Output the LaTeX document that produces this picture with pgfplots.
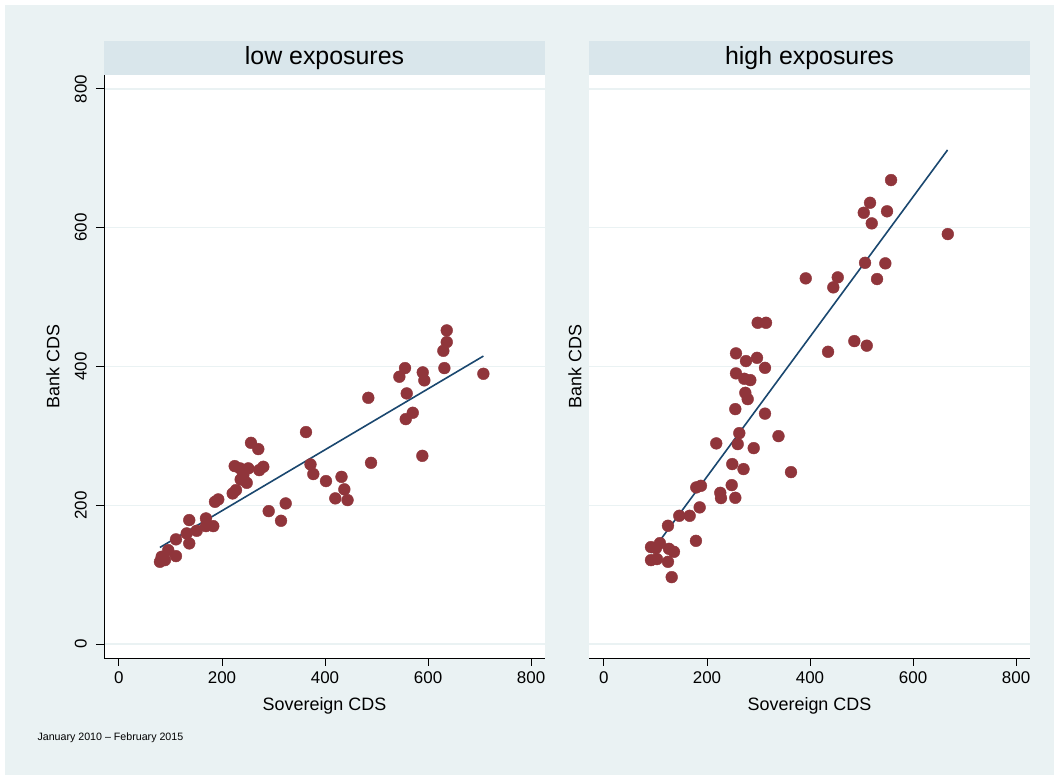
\documentclass[border=0pt]{standalone}
\usepackage{pgfplots}
\pgfplotsset{compat=1.18}
\usepackage{pgfplotstable}
\usepackage{fontspec}
\setmainfont{Liberation Sans}
\definecolor{bgc}{RGB}{234,242,243}
\definecolor{hdr}{RGB}{217,230,235}
\definecolor{cran}{RGB}{144,53,59}
\definecolor{navyc}{RGB}{26,71,111}

\pgfplotstableread{
x y
79.6 118.6
89.3 121
82.9 125.8
95.7 135.4
110.7 126.8
110.7 150.9
136.5 145.1
131.5 159.5
136.5 178.7
150.9 163.3
168.9 181.1
168.9 170
183.1 170
186.4 205
192.8 208.5
220.8 217.1
227.2 221.9
224.7 256.5
235 253.2
251.1 253.2
241.4 243.5
236.3 237.3
248 232.4
272.4 250.7
280.2 255.5
256.3 290
270.5 281
290.7 191.6
314.6 177.7
323.7 202.7
363.1 305.5
371.8 258.9
377.3 245
401.9 234.9
420 210
432 241
437.5 223
443.7 207.5
484 354.9
489.3 261.2
544.3 385.2
555.3 397.7
558.6 361.2
570.3 333.3
556.7 324.2
589.7 391.5
592.8 380
588.9 271.3
631.7 397.7
629.7 422.6
636.3 435.2
636.3 452
707.4 389.5
}\lowtab

\pgfplotstableread{
x y
91.3 139.8
91.3 121
102.9 122.5
108.7 145.5
101 138.3
124.3 118.6
126.2 137.3
135.9 133
131.5 96.5
124.3 170.5
146.2 184.9
166.4 184.9
178.6 148.8
185.8 197
179.2 225.8
188.3 228.1
225.8 218
227.2 210.4
248 229.1
255 210.8
218 289.2
259.6 288.2
262.7 304
249.1 259.4
270.9 252.2
290.7 282.4
255 338.6
312.6 332.1
338.8 299.7
363.1 247.8
279 353
274.4 362.1
256.3 390.1
272.4 382.3
284.1 380.4
312.6 398.1
297.1 412.5
275.7 407.8
256.3 418.9
298.4 463
314.6 463
435 421.2
486 436.6
510.1 430
391.7 527
453.8 528.4
445.2 514
530.1 526
506.8 549.4
546.2 548.6
557.3 668.6
516.5 635.9
504.3 621.5
549.5 623.6
519.8 606.2
667.4 590.8
}\hightab

\pgfplotsset{
  panel/.style={
    scale only axis, width=441bp, height=583bp, anchor=south west,
    xmin=-29, xmax=827, ymin=-20, ymax=820,
    axis x line*=bottom, axis y line*=left, axis line style={-, black, line width=0.9bp},
    axis background/.style={fill=white},
    xtick={0,200,400,600,800}, ytick={0,200,400,600,800},
    tick align=outside, major tick length=8bp,
    tick style={black, line width=0.9bp},
    ymajorgrids, major grid style={bgc, line width=1.3bp},
    /pgf/number format/assume math mode=true,
    tick label style={font=\fontsize{17}{17}\selectfont},
    xticklabel style={anchor=north, inner sep=0pt},
    xticklabel shift=5bp,
    xlabel={Sovereign CDS},
    every axis x label/.style={at={(axis description cs:0.5,-0.0823)}, anchor=center, font=\fontsize{18}{18}\selectfont},
    ylabel={Bank CDS},
  },
}

\begin{document}
\begin{tikzpicture}
\fill[white] (0bp,0bp) rectangle (1059bp,776bp);
\fill[bgc] (5bp,1bp) rectangle (1054bp,771bp);
\fill[hdr] (104bp,701bp) rectangle (545bp,735bp);
\fill[hdr] (589bp,701bp) rectangle (1030bp,735bp);
\node[font=\fontsize{25}{25}\selectfont] at (324.5bp,718bp) {low exposures};
\node[font=\fontsize{25}{25}\selectfont] at (809.5bp,718bp) {high exposures};
\node[anchor=west, font=\fontsize{10.7}{11}\selectfont] at (34bp,38bp) {January 2010 – February 2015};

\begin{axis}[panel, at={(104bp,118bp)},
  yticklabel style={rotate=90, anchor=south, inner sep=0pt},
  yticklabel shift=9bp,
  every axis y label/.style={at={(axis description cs:-0.1156,0.5)}, rotate=90, anchor=center, font=\fontsize{18}{18}\selectfont},
]
\addplot[only marks, mark=*, mark size=5.9bp, mark options={fill=cran, draw=cran}] table[x=x,y=y] {\lowtab};
\addplot[navyc, line width=1.6bp, no marks] coordinates {(79.6,139.3) (707.4,415)};
\end{axis}

\begin{axis}[panel, at={(589bp,118bp)},
  y axis line style={draw=none}, ytick style={draw=none}, yticklabels={},
  every axis y label/.style={at={(axis description cs:-0.0317,0.5)}, rotate=90, anchor=center, font=\fontsize{18}{18}\selectfont},
]
\addplot[only marks, mark=*, mark size=5.9bp, mark options={fill=cran, draw=cran}] table[x=x,y=y] {\hightab};
\addplot[navyc, line width=1.6bp, no marks] coordinates {(91,131.4) (667,712)};
\end{axis}
\end{tikzpicture}
\end{document}
